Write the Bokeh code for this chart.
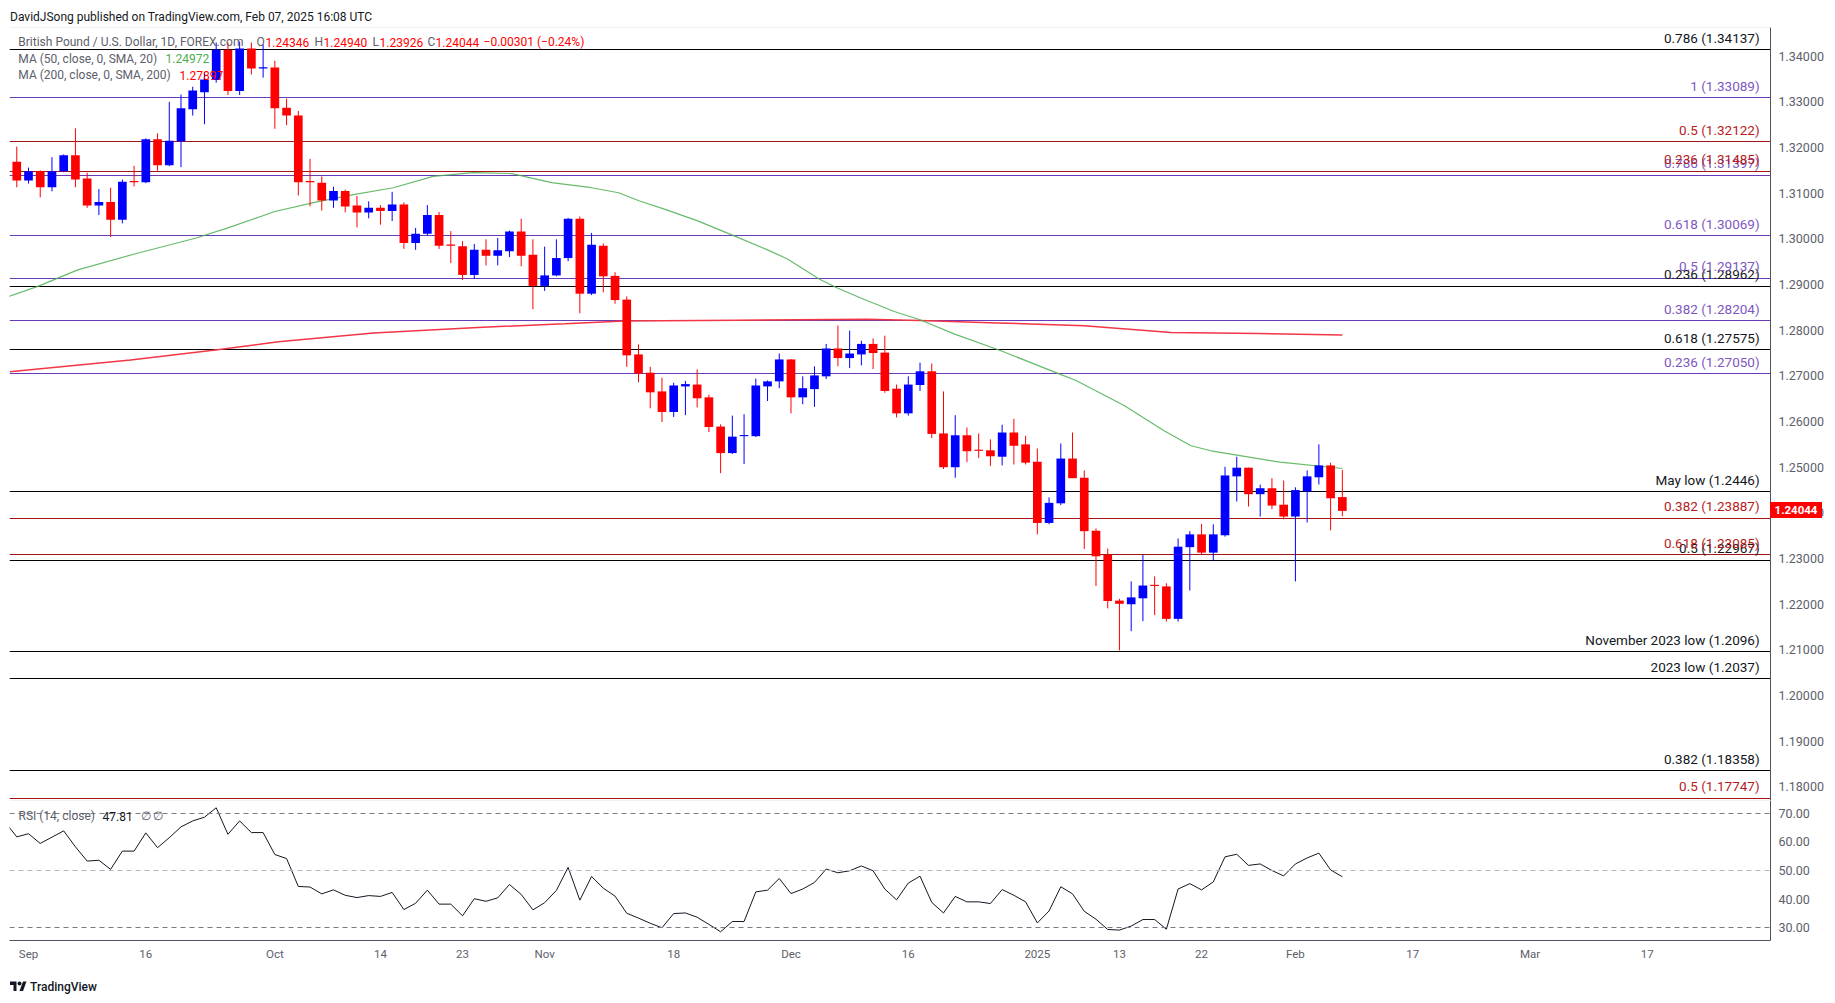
from bokeh.plotting import figure
from bokeh.models import (ColumnDataSource, FixedTicker, PrintfTickFormatter, Span,
                          Label, Div, Range1d)
from bokeh.layouts import column
from bokeh.embed import file_html
from bokeh.resources import INLINE
from bokeh.core.properties import value

FONT = "Roboto"
W = 1819

# ---------------- data (daily GBP/USD candles, first = Aug 30 2024, index -1) -------------
opens = [1.3169, 1.3128, 1.3148, 1.3113, 1.3148, 1.3183, 1.3132, 1.3073, 1.3081, 1.3042,
         1.3125, 1.3124, 1.3218, 1.3161, 1.3213, 1.3284, 1.3321, 1.3348, 1.3414, 1.3324,
         1.3417, 1.3373, 1.3375, 1.3287, 1.3270, 1.3125, 1.3123, 1.3084, 1.3105, 1.3073,
         1.3058, 1.3068, 1.3061, 1.3075, 1.2991, 1.3011, 1.3052, 1.2986, 1.2984, 1.2921,
         1.2976, 1.2963, 1.2973, 1.3016, 1.2965, 1.2897, 1.2920, 1.2958, 1.3044, 1.2880,
         1.2985, 1.2919, 1.2867, 1.2747, 1.2707, 1.2666, 1.2621, 1.2677, 1.2681, 1.2653,
         1.2589, 1.2531, 1.2568, 1.2568, 1.2677, 1.2688, 1.2736, 1.2653, 1.2671, 1.2699,
         1.2760, 1.2739, 1.2747, 1.2770, 1.2751, 1.2672, 1.2618, 1.2680, 1.2710, 1.2574,
         1.2500, 1.2570, 1.2537, 1.2537, 1.2523, 1.2576, 1.2550, 1.2512, 1.2378, 1.2421,
         1.2519, 1.2477, 1.2361, 1.2308, 1.2208, 1.2200, 1.2213, 1.2241, 1.2239, 1.2168,
         1.2325, 1.2353, 1.2313, 1.2351, 1.2480, 1.2499, 1.2441, 1.2454, 1.2418, 1.2392,
         1.2447, 1.2478, 1.2504, 1.24346]
highs = [1.3202, 1.3156, 1.3150, 1.3179, 1.3185, 1.3242, 1.3145, 1.3109, 1.3112, 1.3130,
         1.3160, 1.3220, 1.3231, 1.3300, 1.3316, 1.3333, 1.3364, 1.3430, 1.3430, 1.3432,
         1.3430, 1.3426, 1.3390, 1.3307, 1.3280, 1.3175, 1.3137, 1.3114, 1.3108, 1.3094,
         1.3082, 1.3074, 1.3103, 1.3080, 1.3024, 1.3074, 1.3059, 1.3017, 1.2995, 1.2989,
         1.2999, 1.3002, 1.3018, 1.3044, 1.2999, 1.2983, 1.2999, 1.3046, 1.3049, 1.3013,
         1.2990, 1.2927, 1.2874, 1.2769, 1.2720, 1.2696, 1.2685, 1.2689, 1.2714, 1.2659,
         1.2594, 1.2613, 1.2616, 1.2694, 1.2690, 1.2749, 1.2737, 1.2699, 1.2721, 1.2770,
         1.2810, 1.2799, 1.2777, 1.2782, 1.2788, 1.2681, 1.2699, 1.2729, 1.2727, 1.2666,
         1.2614, 1.2587, 1.2574, 1.2561, 1.2593, 1.2606, 1.2569, 1.2541, 1.2434, 1.2552,
         1.2576, 1.2493, 1.2366, 1.2322, 1.2212, 1.2250, 1.2308, 1.2261, 1.2246, 1.2344,
         1.2360, 1.2376, 1.2375, 1.2501, 1.2523, 1.2499, 1.2462, 1.2476, 1.2471, 1.2456,
         1.2493, 1.2550, 1.2510, 1.24940]
lows = [1.3113, 1.3121, 1.3091, 1.3104, 1.3146, 1.3113, 1.3068, 1.3052, 1.3004, 1.3034,
        1.3115, 1.3122, 1.3149, 1.3159, 1.3157, 1.3270, 1.3251, 1.3342, 1.3315, 1.3315,
        1.3360, 1.3353, 1.3241, 1.3249, 1.3095, 1.3071, 1.3062, 1.3068, 1.3058, 1.3025,
        1.3045, 1.3031, 1.3039, 1.2978, 1.2976, 1.3008, 1.2978, 1.2947, 1.2910, 1.2912,
        1.2942, 1.2942, 1.2960, 1.2940, 1.2846, 1.2886, 1.2918, 1.2951, 1.2837, 1.2877,
        1.2883, 1.2858, 1.2720, 1.2686, 1.2629, 1.2599, 1.2610, 1.2614, 1.2631, 1.2577,
        1.2487, 1.2529, 1.2507, 1.2566, 1.2645, 1.2673, 1.2618, 1.2638, 1.2632, 1.2693,
        1.2721, 1.2717, 1.2723, 1.2715, 1.2663, 1.2609, 1.2613, 1.2667, 1.2564, 1.2496,
        1.2477, 1.2511, 1.2520, 1.2503, 1.2504, 1.2506, 1.2506, 1.2353, 1.2375, 1.2417,
        1.2476, 1.2321, 1.2240, 1.2191, 1.2099, 1.2141, 1.2163, 1.2176, 1.2162, 1.2162,
        1.2230, 1.2309, 1.2295, 1.2348, 1.2425, 1.2414, 1.2392, 1.2408, 1.2386, 1.2250,
        1.2379, 1.2462, 1.2362, 1.23926]
closes = [1.3128, 1.3148, 1.3113, 1.3148, 1.3183, 1.3130, 1.3073, 1.3081, 1.3042, 1.3125,
          1.3124, 1.3218, 1.3161, 1.3215, 1.3286, 1.3325, 1.3349, 1.3414, 1.3324, 1.3417,
          1.3373, 1.3375, 1.3286, 1.3270, 1.3124, 1.3124, 1.3084, 1.3105, 1.3071, 1.3058,
          1.3068, 1.3061, 1.3075, 1.2991, 1.3011, 1.3052, 1.2985, 1.2985, 1.2921, 1.2976,
          1.2963, 1.2975, 1.3016, 1.2963, 1.2897, 1.2920, 1.2958, 1.3044, 1.2880, 1.2987,
          1.2918, 1.2866, 1.2745, 1.2705, 1.2664, 1.2621, 1.2679, 1.2682, 1.2651, 1.2588,
          1.2531, 1.2567, 1.2570, 1.2679, 1.2688, 1.2736, 1.2653, 1.2673, 1.2701, 1.2760,
          1.2739, 1.2749, 1.2770, 1.2750, 1.2667, 1.2618, 1.2681, 1.2710, 1.2573, 1.2500,
          1.2570, 1.2535, 1.2536, 1.2524, 1.2576, 1.2547, 1.2510, 1.2378, 1.2422, 1.2519,
          1.2476, 1.2360, 1.2305, 1.2207, 1.2201, 1.2215, 1.2241, 1.2240, 1.2168, 1.2326,
          1.2353, 1.2313, 1.2353, 1.2482, 1.2499, 1.2441, 1.2454, 1.2416, 1.2392, 1.2450,
          1.2480, 1.2504, 1.2432, 1.24044]

# moving averages (bar index, value)
ma50_x = [-1.7, 0.8, 4.2, 9.2, 14.3, 17.0, 21.0, 24.4, 27.7, 31.1, 34.5, 37.9, 41.2, 44.6,
          48.0, 50.3, 52.1, 54.2, 57.0, 60.1, 63.0, 64.7, 67.4, 68.9, 70.9, 73.8, 76.0,
          78.9, 82.9, 87.8, 89.3, 93.4, 96.8, 99.1, 100.8, 106.7, 112]
ma50_y = [1.2874, 1.2896, 1.2932, 1.2968, 1.3002, 1.3024, 1.3060, 1.3080, 1.3097, 1.3112,
          1.3137, 1.3145, 1.3143, 1.3123, 1.3112, 1.3101, 1.3083, 1.3065, 1.3040, 1.3007,
          1.2976, 1.2956, 1.2912, 1.2893, 1.2871, 1.2841, 1.2823, 1.2792, 1.2755, 1.2705,
          1.2690, 1.2635, 1.2580, 1.2547, 1.2536, 1.2511, 1.24972]
ma200_x = [-1.6, 8.7, 16.1, 21.3, 29.4, 38.3, 45.7, 50.8, 60.5, 71.5, 76.0, 82.6, 90.0,
           97.4, 104.8, 112]
ma200_y = [1.2709, 1.2735, 1.2757, 1.2775, 1.2794, 1.2806, 1.2814, 1.2820, 1.2822, 1.2824,
           1.2821, 1.2816, 1.2810, 1.2795, 1.2793, 1.27897]

# RSI(14), first value = index -2
rsi_values = [67.0, 61.8,
              62.9, 59.5, 61.7, 63.9, 58.3, 53.3, 53.6, 50.4, 56.8, 56.8,
              63.2, 58.0, 61.5, 65.3, 67.4, 68.7, 72.0, 62.7, 67.4, 63.3,
              63.3, 55.6, 54.2, 44.4, 44.2, 41.8, 43.2, 41.3, 40.5, 41.2,
              40.9, 42.3, 36.3, 38.5, 43.1, 38.2, 38.2, 34.1, 40.1, 39.2,
              40.4, 45.1, 41.6, 36.2, 38.7, 43.0, 51.1, 39.6, 47.9, 43.8,
              41.0, 35.0, 33.3, 31.5, 29.9, 34.9, 35.1, 33.6, 31.1, 28.5,
              32.1, 32.1, 42.5, 43.1, 47.2, 41.9, 43.5, 45.8, 50.5, 49.2,
              49.9, 51.6, 49.9, 43.5, 39.7, 45.6, 48.0, 38.8, 35.1, 40.9,
              39.0, 39.0, 38.4, 43.3, 41.3, 39.0, 31.6, 35.8, 44.3, 41.8,
              35.7, 32.9, 29.3, 29.1, 30.5, 32.8, 32.8, 29.4, 43.5, 45.4,
              43.2, 46.0, 54.8, 55.7, 51.8, 52.3, 50.0, 48.1, 52.3, 54.4,
              56.1, 50.2, 47.81]

# horizontal levels
black_levels = [1.34137, 1.28962, 1.27575, 1.2446, 1.22967, 1.2096, 1.2037, 1.18358]
black_labels = ["0.786 (1.34137)", "0.236 (1.28962)", "0.618 (1.27575)", "May low (1.2446)",
                "0.5 (1.22967)", "November 2023 low (1.2096)", "2023 low (1.2037)",
                "0.382 (1.18358)"]
purple_levels = [1.33089, 1.31397, 1.30069, 1.29137, 1.28204, 1.27050]
purple_labels = ["1 (1.33089)", "0.786 (1.31397)", "0.618 (1.30069)", "0.5 (1.29137)",
                 "0.382 (1.28204)", "0.236 (1.27050)"]
red_levels = [1.32122, 1.31485, 1.23887, 1.23085, 1.17747]
red_labels = ["0.5 (1.32122)", "0.236 (1.31485)", "0.382 (1.23887)", "0.618 (1.23085)",
              "0.5 (1.17747)"]

price_ticks = [1.18, 1.19, 1.20, 1.21, 1.22, 1.23, 1.24, 1.25, 1.26, 1.27, 1.28, 1.29,
               1.30, 1.31, 1.32, 1.33, 1.34]
rsi_ticks = [30, 40, 50, 60, 70]
date_tick_idx = [0, 10, 21, 30, 37, 44, 55, 65, 75, 86, 93, 100, 108, 118, 128, 138]
date_tick_labels = ["Sep", "16", "Oct", "14", "23", "Nov", "18", "Dec", "16", "2025", "13",
                    "22", "Feb", "17", "Mar", "17"]

last_price = 1.24044

# ---------------- styling constants ----------------
UP, DOWN = "#0000ff", "#ff0000"
C_BLACK, C_PURPLE, C_RED = "#000000", "#673ab7", "#a31515"
L_PURPLE, L_RED = "#7e57c2", "#b71c1c"
GREY = "#5d606b"

X0, X1 = -1.62, 148.5
Y0, Y1 = 1.17703, 1.34628
HEADER_H = 19
PRICE_H = 773
LABEL_X = 147.57

def py(pix):
    # vertical pixel position of the reference page -> price
    return 1.34 - (pix - 55.7) / 4567.0

# ---------------- price pane ----------------
xs = list(range(-1, -1 + len(opens)))
colors = [UP if c >= o else DOWN for o, c in zip(opens, closes)]
bots = [min(o, c) for o, c in zip(opens, closes)]
tops = [max(max(o, c), min(o, c) + 0.00025) for o, c in zip(opens, closes)]
src = ColumnDataSource(dict(x=xs, high=highs, low=lows, top=tops, bottom=bots, color=colors))

x_range = Range1d(X0, X1)
p = figure(width=W, height=PRICE_H, x_range=x_range, y_range=Range1d(Y0, Y1),
           output_backend="svg", toolbar_location=None, x_axis_location=None,
           y_axis_location="right", min_border_left=1, min_border_right=57,
           min_border_top=0, min_border_bottom=0, margin=0)
p.outline_line_color = None
p.grid.visible = False

ax = p.yaxis[0]
ax.ticker = FixedTicker(ticks=price_ticks)
ax.formatter = PrintfTickFormatter(format="%.5f")

p.add_layout(Span(location=Y1, dimension="width", line_color="#e0e3eb", line_width=1))
p.hspan(y=black_levels, line_color=C_BLACK, line_width=1.2)
p.hspan(y=purple_levels, line_color=C_PURPLE, line_width=1.2)
p.hspan(y=red_levels, line_color=C_RED, line_width=1.2)

for levels, labels, col in ((black_levels, black_labels, "#131722"),
                            (purple_levels, purple_labels, L_PURPLE),
                            (red_levels, red_labels, L_RED)):
    p.text(x=[LABEL_X] * len(levels), y=levels, text=labels, text_align="right",
           text_baseline="bottom", y_offset=-4, text_font=value(FONT),
           text_font_size="13.5px", text_color=col)

p.line(ma200_x, ma200_y, line_color="#f23645", line_width=1.5)
p.line(ma50_x, ma50_y, line_color="#4caf50", line_width=1.2, line_alpha=0.85)

p.segment(x0="x", y0="high", x1="x", y1="low", line_color="color", line_width=1, source=src)
p.vbar(x="x", width=0.74, top="top", bottom="bottom", fill_color="color",
       line_color=None, source=src)

def lab(fig, x, y, text, color, size="12px"):
    fig.add_layout(Label(x=x, y=y, text=text, text_color=color, text_font=FONT,
                         text_font_size=size, text_baseline="middle"))

ix = lambda pix: (pix - 28.0) / 11.73

lab(p, ix(17.8), py(42), "British Pound / U.S. Dollar, 1D, FOREX.com", GREY)
lab(p, ix(256), py(42), "O", GREY)
lab(p, ix(265), py(42), f"{opens[-1]:.5f}", "#ff0000")
lab(p, ix(314), py(42), "H", GREY)
lab(p, ix(323), py(42), f"{highs[-1]:.5f}", "#ff0000")
lab(p, ix(372), py(42), "L", GREY)
lab(p, ix(379), py(42), f"{lows[-1]:.5f}", "#ff0000")
lab(p, ix(427), py(42), "C", GREY)
lab(p, ix(435), py(42), f"{closes[-1]:.5f}", "#ff0000")
lab(p, ix(483), py(42), "\u22120.00301 (\u22120.24%)", "#ff0000")
lab(p, ix(17.8), py(58.5), "MA (50, close, 0, SMA, 20)", GREY)
lab(p, ix(165), py(58.5), f"{ma50_y[-1]:.5f}", "#4caf50")
lab(p, ix(17.8), py(75), "MA (200, close, 0, SMA, 200)", GREY)
lab(p, ix(179), py(75), f"{ma200_y[-1]:.5f}", "#ff0000")

# ---------------- RSI pane ----------------
r = figure(width=W, height=166, x_range=x_range, y_range=Range1d(25.44, 74.56),
           output_backend="svg", toolbar_location=None, y_axis_location="right",
           min_border_left=1, min_border_right=57, min_border_top=0, min_border_bottom=26,
           margin=0)
r.outline_line_color = None
r.grid.visible = False
for v, c in ((70, "#787b86"), (50, "#b2b5be"), (30, "#787b86")):
    r.add_layout(Span(location=v, dimension="width", line_color=c, line_width=1,
                      line_dash="5 4"))
r.add_layout(Span(location=74.56, dimension="width", line_color="#e0e3eb", line_width=1))
rsi_x = list(range(-2, -2 + len(rsi_values)))
r.line(rsi_x, rsi_values, line_color="#131722", line_width=1)

ry = r.yaxis[0]
ry.ticker = FixedTicker(ticks=rsi_ticks)
ry.formatter = PrintfTickFormatter(format="%.2f")
rx = r.xaxis[0]
rx.ticker = FixedTicker(ticks=date_tick_idx)
rx.major_label_overrides = {i: t for i, t in zip(date_tick_idx, date_tick_labels)}
for a in (ax, ry, rx):
    a.major_tick_out = 0
    a.major_tick_in = 0
    a.minor_tick_out = 0
    a.minor_tick_in = 0
    a.axis_line_color = "#50535e"
    a.major_label_text_color = GREY
    a.major_label_text_font = FONT
    a.major_label_text_font_size = "12.5px"
ax.major_label_standoff = 8
ry.major_label_standoff = 8
rx.major_label_text_font_size = "11.5px"
rx.major_label_standoff = 6

def rp(pix):
    return 70 - (pix - 813.0) / 2.85

lab(r, ix(18), rp(816), "RSI (14, close)", GREY)
lab(r, ix(102), rp(816), f"{rsi_values[-1]:.2f}", "#131722")
lab(r, ix(140), rp(816), "\u2205  \u2205", GREY)

# ---------------- header / footer / price marker ----------------
header = Div(text="DavidJSong published on TradingView.com, Feb 07, 2025 16:08 UTC",
             width=W, height=HEADER_H, margin=0,
             styles={"font-family": FONT, "font-size": "12px", "color": "#131722",
                     "line-height": "19px", "padding-left": "2px"})
logo = ('<svg width="19" height="12" viewBox="0 0 36 24" style="vertical-align:-1px">'
        '<path d="M14 22H8V10H1V3h13v19z" fill="#131722"/>'
        '<circle cx="20" cy="7" r="4" fill="#131722"/>'
        '<path d="M27 22h-7l7-19h7l-7 19z" fill="#131722"/></svg>')
footer = Div(text=logo + '<span style="margin-left:2px">TradingView</span>', width=W, height=28,
             margin=0,
             styles={"font-family": FONT, "font-size": "12px", "color": "#131722",
                     "padding-top": "13px", "padding-left": "1px", "font-weight": "500"})

marker_top = HEADER_H + (Y1 - last_price) / (Y1 - Y0) * PRICE_H - 8
marker = Div(text=f"{last_price:.5f}", width=52, height=16, margin=0,
             styles={"position": "absolute", "left": "1762px", "top": f"{marker_top:.1f}px",
                     "background-color": "#ff0000", "color": "white",
                     "font-family": FONT, "font-size": "11.5px", "font-weight": "bold",
                     "line-height": "16px", "text-align": "center"})

layout = column(header, p, r, footer, marker, spacing=0, margin=(8, 8, 8, 8))
open("out.html", "w").write(file_html(layout, INLINE))
